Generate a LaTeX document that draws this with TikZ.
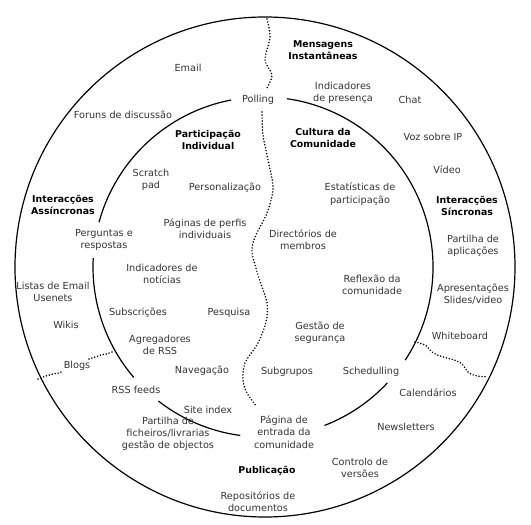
\documentclass[tikz,border=0pt]{standalone}
\usepackage{fontspec}
\setmainfont{DejaVu Sans}
\begin{document}
\begin{tikzpicture}[x=1pt,y=-1pt,line width=1.2pt,
		txt/.style={align=center,text=black!80,font=\fontsize{9.7}{12.3}\selectfont},
		ttl/.style={align=center,text=black,font=\fontsize{9.4}{12.3}\selectfont\bfseries},
		dots/.style={line width=1.7pt,line cap=round,dash pattern=on 0pt off 3pt}]
				\useasboundingbox (0,0) rectangle (531,525);
				\coordinate (co) at (265,267);
				\coordinate (ci) at (263,267);
				\draw (co) circle (250);
				\foreach \a/\b in {-100.8/-164.7,-177/-220.5,-232/-262.3,-291.2/-317,-326.8/-441.9}
					\draw (ci) ++(\a:170) arc[start angle=\a,end angle=\b,radius=170];
				% borders between the areas
				\draw[dots] plot[smooth] coordinates {(267,19) (270,37) (265,60) (272,75) (267,88)};
				\draw[dots] plot[smooth] coordinates {(262,112) (263,135) (268,160) (273,188) (267,213) (255,237) (252,252) (258,275) (267,303) (266,322) (258,343) (245,363) (243,380) (247,393) (257,407)};
				\draw[dots] plot[smooth] coordinates {(38,379) (46,376) (53,374) (59,373) (63,371)};
				\draw[dots] plot[smooth] coordinates {(89,359) (95,357) (101,355) (106,354) (112,352)};
				\draw[dots] plot[smooth] coordinates {(415,342) (425,345) (432,352) (437,355) (447,358) (457,361) (462,364) (465,368) (469,373) (477,376) (488,377)};
				% area titles
				\node[ttl] (mens) at (323,50) {Mensagens\\Instantâneas};
				\node[ttl] (part) at (208,140) {Participação\\Individual};
				\node[ttl] (cult) at (323,138) {Cultura da\\Comunidade};
				\node[ttl] (assin) at (63,205) {Interacções\\Assíncronas};
				\node[ttl] (sinc) at (467,206) {Interacções\\Síncronas};
				\node[ttl] (publ) at (267,471) {Publicação};
				% tools
				\node[txt] (email) at (188,68) {Email};
				\node[txt] (polling) at (258,100) {Polling};
				\node[txt] (indpres) at (343,93) {Indicadores\\de presença};
				\node[txt] (chat) at (410,100) {Chat};
				\node[txt] (foruns) at (123,115) {Foruns de discussão};
				\node[txt] (voz) at (433,137) {Voz sobre IP};
				\node[txt] (video) at (447,170) {Vídeo};
				\node[txt] (scratch) at (151,180) {Scratch\\pad};
				\node[txt] (pers) at (225,188) {Personalização};
				\node[txt] (paginas) at (205,229) {Páginas de perfis\\individuais};
				\node[txt] (perg) at (104,240) {Perguntas e\\respostas};
				\node[txt] (estat) at (360,194) {Estatísticas de\\participação};
				\node[txt] (direct) at (303,240) {Directórios de\\membros};
				\node[txt] (partapl) at (473,246) {Partilha de\\aplicações};
				\node[txt] (indnot) at (162,274) {Indicadores de\\notícias};
				\node[txt] (reflex) at (372,285) {Reflexão da\\comunidade};
				\node[txt] (listas) at (53,292) {Listas de Email\\Usenets};
				\node[txt] (apres) at (473,294) {Apresentações\\Slides/video};
				\node[txt] (subscr) at (138,313) {Subscrições};
				\node[txt] (pesq) at (229,313) {Pesquisa};
				\node[txt] (wikis) at (66,325) {Wikis};
				\node[txt] (gestao) at (320,333) {Gestão de\\segurança};
				\node[txt] (white) at (460,336) {Whiteboard};
				\node[txt] (agreg) at (160,345) {Agregadores\\de RSS};
				\node[txt] (blogs) at (77,366) {Blogs};
				\node[txt] (naveg) at (202,371) {Navegação};
				\node[txt] (subgr) at (287,372) {Subgrupos};
				\node[txt] (sched) at (371,372) {Schedulling};
				\node[txt] (rss) at (136,390) {RSS feeds};
				\node[txt] (calend) at (428,393) {Calendários};
				\node[txt] (site) at (208,410) {Site index};
				\node[txt] (pagina) at (284,432) {Página de\\entrada da\\comunidade};
				\node[txt] (newsl) at (406,427) {Newsletters};
				\node[txt] (partfich) at (168,434) {Partilha de\\ficheiros/livrarias\\gestão de objectos};
				\node[txt] (contr) at (360,468) {Controlo de\\versões};
				\node[txt] (repos) at (258,502) {Repositórios de\\documentos};
		\end{tikzpicture}
\end{document}
